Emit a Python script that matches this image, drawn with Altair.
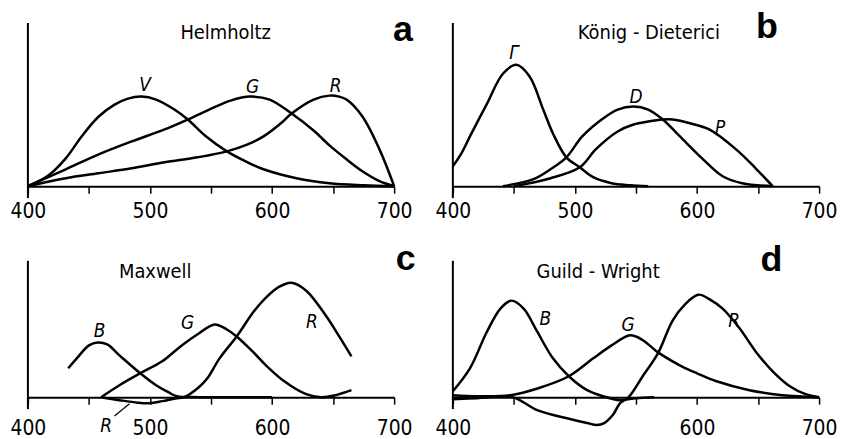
import altair as alt
import pandas as pd

# ---------------- data (wavelength nm, relative height) ----------------
TICKS = [400, 450, 500, 550, 600, 650, 700]

# Panel a: Helmholtz
A_V_NM = [400, 417, 431, 444, 458, 471, 482, 493, 505, 520, 531, 545, 563, 580, 593, 620, 647, 675, 700]
A_V_Y = [0, 11, 28, 50, 70, 82, 88, 90, 87, 77, 67, 51, 35, 24, 17, 8, 3, 1, 0]
A_G_NM = [400, 431, 458, 485, 512, 531, 552, 566, 582, 598, 616, 634, 647, 661, 674, 688, 700]
A_G_Y = [0, 17, 32, 45, 57, 67, 79, 86, 90, 87, 73, 56, 41, 27, 15, 5, 0]
A_R_NM = [400, 431, 458, 485, 512, 539, 563, 580, 593, 607, 616, 634, 647, 655, 661, 674, 688, 700]
A_R_Y = [0, 8, 13, 18, 24, 29, 35, 42, 50, 63, 73, 87, 91, 90, 87, 70, 37, 0]

# Panel b: König - Dieterici
B_GAMMA_NM = [400, 407, 414, 428, 441, 452, 463, 474, 482, 493, 504, 515, 530, 545, 560]
B_GAMMA_Y = [20, 33, 50, 83, 113, 122, 110, 77, 53, 29, 19, 9, 3, 1, 0]
B_D_NM = [441, 466, 480, 493, 506, 523, 535, 548, 560, 572, 586, 605, 621, 637, 662]
B_D_Y = [0, 7, 17, 29, 50, 68, 77, 80, 77, 67, 50, 27, 10, 3, 0]
B_P_NM = [450, 480, 504, 517, 535, 548, 560, 572, 580, 595, 610, 632, 648, 662]
B_P_Y = [0, 8, 19, 37, 55, 62, 65, 67, 67, 63, 57, 37, 18, 0]

# Panel c: Maxwell
C_B_NM = [433, 440, 450, 457, 465, 475, 492, 505, 515, 522, 540, 600]
C_B_Y = [29, 39, 52, 55, 53, 42, 24, 12, 5, 1, 0, 0]
C_G_NM = [460, 475, 492, 510, 525, 540, 553, 563, 571, 584, 595, 610, 628, 640, 652, 665]
C_G_Y = [0, 12, 24, 36, 51, 64, 73, 68, 61, 46, 32, 16, 3, 0, 2, 7]
C_R_NM = [460, 475, 490, 500, 510, 522, 528, 540, 547, 557, 571, 585, 595, 606, 616, 628, 644, 655, 665]
C_R_Y = [0, -3, -5.5, -6, -4, -1, 0, 10, 19, 39, 61, 86, 100, 111, 115, 107, 82, 61, 41]

# Panel d: Guild - Wright
D_B_NM = [400, 414, 428, 439, 448, 458, 469, 482, 495, 510, 523, 537, 550, 565]
D_B_Y = [6, 29, 66, 89, 97, 89, 66, 39, 21, 7, 1, -3, -1, 0]
D_G_NM = [400, 420, 447, 470, 495, 515, 530, 544, 550, 556, 563, 568, 580, 589, 600, 616, 643, 670, 700]
D_G_Y = [2, 1, 2, 9, 21, 39, 52, 62, 61, 57, 50, 45, 36, 30, 24, 16, 7, 2, 0]
D_R_NM = [400, 420, 449, 469, 496, 510, 518, 524, 531, 537, 544, 556, 568, 580, 590, 601, 612, 621, 635, 648, 662, 676, 689, 700]
D_R_Y = [-2, -1, 0, -13, -22, -26, -28, -26, -18, -6, 0, 22, 44, 77, 93, 103, 97, 89, 69, 46, 26, 11, 3, 0]

# annotation texts (label, nm, height)
A_LABELS = [("V", 496, 101.5), ("G", 584, 100), ("R", 652, 101)]
B_LABELS = [("Γ", 450, 134), ("D", 550, 90), ("P", 619, 58)]
C_LABELS = [("B", 458.7, 66), ("G", 530.7, 74), ("R", 632.6, 76), ("R", 464, -29.5)]
D_LABELS = [("B", 475.8, 79), ("G", 543.5, 72), ("R", 630.5, 77)]

TITLES = {"a": ("Helmholtz", 562, 154), "b": ("König - Dieterici", 560.6, 154),
          "c": ("Maxwell", 504.3, 126), "d": ("Guild - Wright", 519, 126)}
LETTERS = {"a": (707.3, 146), "b": (657.2, 149), "c": (709.4, 128), "d": (660.9, 127)}

SHOWN = {"a": [400, 500, 600, 700], "b": [400, 500, 600, 700],
         "c": [400, 500, 600, 700], "d": [400, 600, 700]}

C_LEADER = [(470.9, -19, 483.2, -6.7)]

FONT = "Liberation Sans Narrow, DejaVu Sans Condensed, Arial Narrow, sans-serif"
W = 368
H_TOP, TOP_AXIS = 174, 164
H_BOT, BOT_AXIS = 151, 137


def panel(key, curves, labels, H, axis_top, label_pad, leader=None):
    xs = alt.Scale(domain=[400, 700], nice=False, zero=False)
    ys = alt.Scale(domain=[0, H], nice=False, zero=False)
    rows = []
    for name, nms, vals in curves:
        for n, v in zip(nms, vals):
            rows.append({"curve": name, "nm": n, "v": v})
    df = pd.DataFrame(rows)
    cond = " || ".join(f"datum.value == {v}" for v in SHOWN[key])
    xaxis = alt.Axis(values=TICKS, labelExpr=f"({cond}) ? datum.label : ''", title=None,
                     grid=False, domainColor="black", domainWidth=2, tickColor="black",
                     tickWidth=1.5, tickSize=7, labelFont=FONT, labelFontSize=21,
                     labelColor="black", labelPadding=label_pad, labelFlush=False,
                     labelOverlap=False, format="d")

    def X(f):
        return alt.X(f, scale=xs, axis=xaxis)

    def Y(f):
        return alt.Y(f, scale=ys, axis=None)

    lines = alt.Chart(df).mark_line(color="black", strokeWidth=2.5, interpolate="catmull-rom").encode(
        x=X("nm:Q"), y=Y("v:Q"), detail="curve:N")
    yax = alt.Chart(pd.DataFrame({"nm": [400], "v": [-12], "v2": [axis_top]})).mark_rule(
        color="black", strokeWidth=2).encode(x=X("nm:Q"), y=Y("v:Q"), y2="v2:Q")
    ldf = pd.DataFrame(labels, columns=["t", "nm", "v"])
    ltext = alt.Chart(ldf).mark_text(font=FONT, fontSize=19, fontStyle="italic", color="black",
                                     align="center", baseline="middle").encode(
        x=X("nm:Q"), y=Y("v:Q"), text="t:N")
    t, tx, ty = TITLES[key]
    title = alt.Chart(pd.DataFrame({"t": [t], "nm": [tx], "v": [ty]})).mark_text(
        font=FONT, fontSize=20, color="black", align="center", baseline="middle").encode(
        x=X("nm:Q"), y=Y("v:Q"), text="t:N")
    lx, ly = LETTERS[key]
    letter = alt.Chart(pd.DataFrame({"t": [key], "nm": [lx], "v": [ly]})).mark_text(
        font="Liberation Sans, Arial, sans-serif", fontSize=36, fontWeight="bold", color="black",
        align="center", baseline="alphabetic").encode(x=X("nm:Q"), y=Y("v:Q"), text="t:N")
    layers = [lines, yax, ltext, title, letter]
    if leader:
        ld = pd.DataFrame(leader, columns=["nm", "v", "nm2", "v2"])
        layers.append(alt.Chart(ld).mark_rule(color="black", strokeWidth=1.2).encode(
            x=X("nm:Q"), y=Y("v:Q"), x2="nm2:Q", y2="v2:Q"))
    return alt.layer(*layers).properties(width=W, height=H)


pa = panel("a", [("V", A_V_NM, A_V_Y), ("G", A_G_NM, A_G_Y), ("R", A_R_NM, A_R_Y)],
           A_LABELS, H_TOP, TOP_AXIS, 7)
pb = panel("b", [("Γ", B_GAMMA_NM, B_GAMMA_Y), ("D", B_D_NM, B_D_Y), ("P", B_P_NM, B_P_Y)],
           B_LABELS, H_TOP, TOP_AXIS, 7)
pc = panel("c", [("B", C_B_NM, C_B_Y), ("G", C_G_NM, C_G_Y), ("R", C_R_NM, C_R_Y)],
           C_LABELS, H_BOT, BOT_AXIS, 14, leader=C_LEADER)
pd_ = panel("d", [("B", D_B_NM, D_B_Y), ("G", D_G_NM, D_G_Y), ("R", D_R_NM, D_R_Y)],
            D_LABELS, H_BOT, BOT_AXIS, 14)

chart = alt.concat(pa, pb, pc, pd_, columns=2,
                   spacing=alt.RowColnumber(row=61, column=59), bounds="flush").properties(
    padding={"left": 1, "top": 0, "right": 0, "bottom": 0},
    background="white",
).configure_view(strokeWidth=0)

chart.save("out.html", embed_options={"renderer": "svg", "actions": False})
